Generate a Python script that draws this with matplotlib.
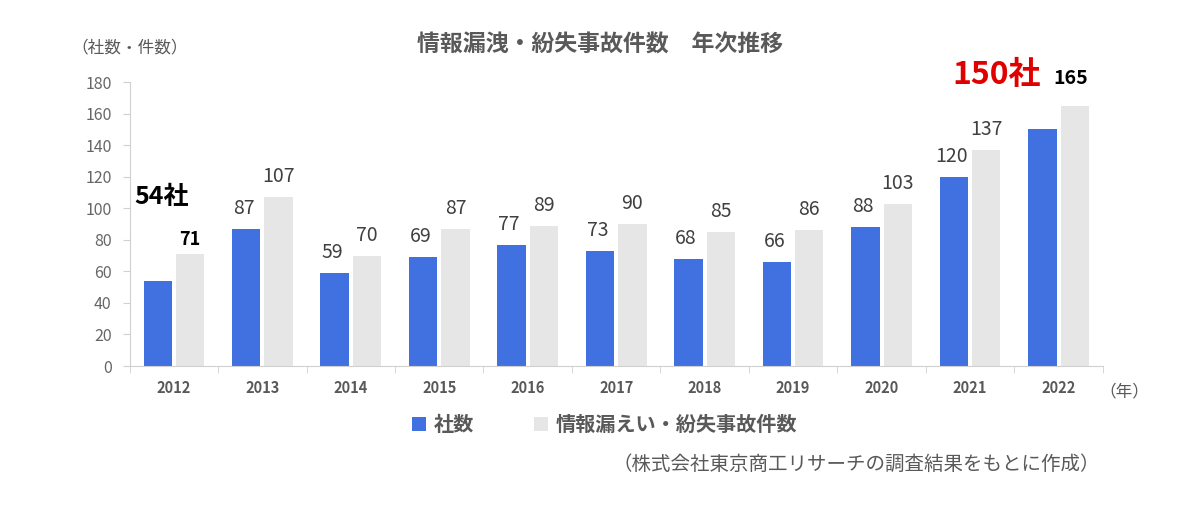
import matplotlib.pyplot as plt
import numpy as np

plt.rcParams['font.family'] = ['Noto Sans CJK JP', 'DejaVu Sans']

years = ['2012', '2013', '2014', '2015', '2016', '2017', '2018', '2019', '2020', '2021', '2022']
companies = [54, 87, 59, 69, 77, 73, 68, 66, 88, 120, 150]
incidents = [71, 107, 70, 87, 89, 90, 85, 86, 103, 137, 165]

blue = '#4170E0'
grey = '#E6E6E6'
txt = '#595959'

fig = plt.figure(figsize=(12, 5.08), dpi=100)
ax = fig.add_axes([0.108, 0.2795, 0.811, 0.559])

x = np.arange(len(years))
w = 0.32
gap = 0.045
ax.bar(x - w / 2 - gap / 2, companies, w, color=blue, label='社数')
ax.bar(x + w / 2 + gap / 2, incidents, w, color=grey, label='情報漏えい・紛失事故件数')

last = len(years) - 1
for i in range(len(years)):
    if i == 0:
        # 最初の年は強調表示
        ax.text(-0.445, 107, f'{companies[i]}社', ha='left', va='center',
                fontsize=18, fontweight='bold', color='black')
        ax.text(x[i] + w / 2 + gap / 2, incidents[i] + 9, str(incidents[i]),
                ha='center', va='center', fontsize=13, fontweight='bold', color='black')
    elif i == last:
        ax.text(x[i] - 0.70, 184.5, f'{companies[i]}社', ha='center', va='center',
                fontsize=23, fontweight='bold', color='#E00000', clip_on=False)
        ax.text(x[i] + 0.14, 182.5, str(incidents[i]), ha='center', va='center',
                fontsize=14, fontweight='bold', color='black', clip_on=False)
    else:
        ax.text(x[i] - w / 2 - gap / 2 - 0.03, companies[i] + 13, str(companies[i]),
                ha='center', va='center', fontsize=14, color='#404040')
        ax.text(x[i] + w / 2 + gap / 2, incidents[i] + 13, str(incidents[i]),
                ha='center', va='center', fontsize=14, color='#404040')

ax.set_xlim(-0.5, len(years) - 0.5)
ax.set_ylim(0, 180)
ax.set_yticks(range(0, 181, 20))
ax.set_xticks(x)
ax.set_xticklabels(years, fontweight='bold', color=txt, fontsize=10.5)
ax.set_xticks(np.arange(-0.5, len(years)), minor=True)
ax.tick_params(axis='x', which='major', length=0, pad=10)
ax.tick_params(axis='x', which='minor', length=5, color='#D0D0D0')
ax.tick_params(axis='y', length=5, color='#D0D0D0', labelcolor='#666666', labelsize=11.5, pad=8)
for s in ['top', 'right']:
    ax.spines[s].set_visible(False)
ax.spines['left'].set_color('#D0D0D0')
ax.spines['bottom'].set_color('#D0D0D0')

fig.text(0.5, 0.912, '情報漏洩・紛失事故件数　年次推移', ha='center', va='center',
         fontsize=16.5, fontweight='bold', color=txt)
fig.text(0.108, 0.905, '（社数・件数）', ha='center', va='center', fontsize=12, color=txt)
fig.text(0.937, 0.228, '（年）', ha='center', va='center', fontsize=12, color=txt)
fig.text(0.917, 0.085, '（株式会社東京商工リサーチの調査結果をもとに作成）', ha='right', va='center',
         fontsize=14, color=txt)

fig.legend(loc='center', bbox_to_anchor=(0.504, 0.165), ncol=2, frameon=False,
           handlelength=0.7, handleheight=0.7, columnspacing=2.95,
           handletextpad=0.4, prop={'weight': 'bold', 'size': 14.5})
for t in fig.legends[0].get_texts():
    t.set_color(txt)

fig.savefig('out.png', dpi=100)
